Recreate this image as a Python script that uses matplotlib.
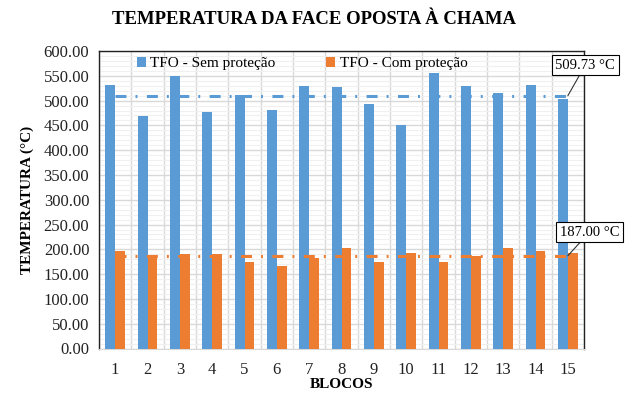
import numpy as np
import matplotlib
matplotlib.use("Agg")
import matplotlib.pyplot as plt
from matplotlib.ticker import MultipleLocator, FormatStrFormatter

# dados
blocos = [str(i) for i in range(1, 16)]
sem_protecao = [530.7, 468.3, 548.8, 476.3, 511.9, 480.3, 528.7, 526.7,
                492.4, 450.1, 554.8, 528.7, 515.2, 530.7, 502.5]
com_protecao = [196.7, 182.0, 190.0, 190.0, 174.6, 166.5, 182.0, 202.8,
                174.6, 192.7, 174.6, 186.7, 202.8, 196.7, 192.7]
media_sem = 509.73
media_com = 187.00

azul = "#5B9BD5"
laranja = "#ED7D31"

plt.rcParams["font.family"] = ["Liberation Serif", "DejaVu Serif"]
plt.rcParams["lines.scale_dashes"] = False

fig = plt.figure(figsize=(6.27, 3.96), dpi=100)
ax = fig.add_axes([99 / 627, 1 - 348.5 / 396, 485 / 627, 297.5 / 396])

x = np.arange(1, len(blocos) + 1)
w = 0.3
ax.bar(x - w / 2, sem_protecao, w, color=azul, label="TFO - Sem proteção", zorder=3)
ax.bar(x + w / 2, com_protecao, w, color=laranja, label="TFO - Com proteção", zorder=3)

# linhas das médias
ax.plot([x[0], x[-1]], [media_sem, media_sem], color=azul, lw=2.2,
        dashes=(7.9, 6.5, 1.4, 6.8), scalex=False, zorder=4)
ax.plot([x[0], x[-1]], [media_com, media_com], color=laranja, lw=2.2,
        dashes=(7.9, 6.5, 1.4, 6.8), scalex=False, zorder=4)

ax.set_xlim(0.5, len(blocos) + 0.5)
ax.set_ylim(0, 600)
ax.set_xticks(x)
ax.set_xticklabels(blocos)
ax.yaxis.set_major_locator(MultipleLocator(50))
ax.yaxis.set_minor_locator(MultipleLocator(10))
ax.yaxis.set_major_formatter(FormatStrFormatter("%.2f"))
ax.set_xticks(np.arange(0.5, len(blocos) + 1, 1), minor=True)
ax.tick_params(axis="both", which="both", length=0, labelsize=12, colors="#222222")
ax.tick_params(axis="x", pad=9.5)
ax.tick_params(axis="y", pad=7)

ax.grid(True, axis="y", which="major", color="#d9d9d9", lw=1, zorder=0)
ax.grid(True, axis="y", which="minor", color="#f0f0f0", lw=0.8, zorder=0)
ax.grid(True, axis="x", which="minor", color="#d9d9d9", lw=1, zorder=0)
ax.grid(False, axis="x", which="major")

for s in ["left", "top", "right"]:
    ax.spines[s].set_color("#222222")
    ax.spines[s].set_linewidth(1.0)
ax.spines["bottom"].set_color("#d9d9d9")

ax.set_xlabel("BLOCOS", fontsize=11, fontweight="bold", labelpad=0)
ax.set_ylabel("TEMPERATURA (°C)", fontsize=11, fontweight="bold", labelpad=7)

fig.text(0.5, 1 - 20 / 396, "TEMPERATURA DA FACE OPOSTA À CHAMA",
         ha="center", va="center", fontsize=13.5, fontweight="bold")

ax.legend(loc="upper left", bbox_to_anchor=(0.065, 1.0), ncol=2, frameon=False,
          fontsize=11, handlelength=0.6, handleheight=0.6, handletextpad=0.3,
          columnspacing=3.3, borderaxespad=0)

bbox = dict(boxstyle="square,pad=0.25", fc="white", ec="black", lw=0.8)
ax.annotate(f"{media_sem:.2f} °C", xy=(x[-1], media_sem), xytext=(12.5, 22),
            textcoords="offset points", ha="center", va="center", fontsize=10.5,
            bbox=bbox, arrowprops=dict(arrowstyle="-", color="#333333", lw=0.8,
                                       shrinkA=0, shrinkB=0),
            annotation_clip=False, zorder=6)
ax.annotate(f"{media_com:.2f} °C", xy=(x[-1], media_com), xytext=(15.5, 17),
            textcoords="offset points", ha="center", va="center", fontsize=10.5,
            bbox=bbox, arrowprops=dict(arrowstyle="-", color="#333333", lw=0.8,
                                       shrinkA=0, shrinkB=0),
            annotation_clip=False, zorder=6)

fig.savefig("out.png", dpi=100)
